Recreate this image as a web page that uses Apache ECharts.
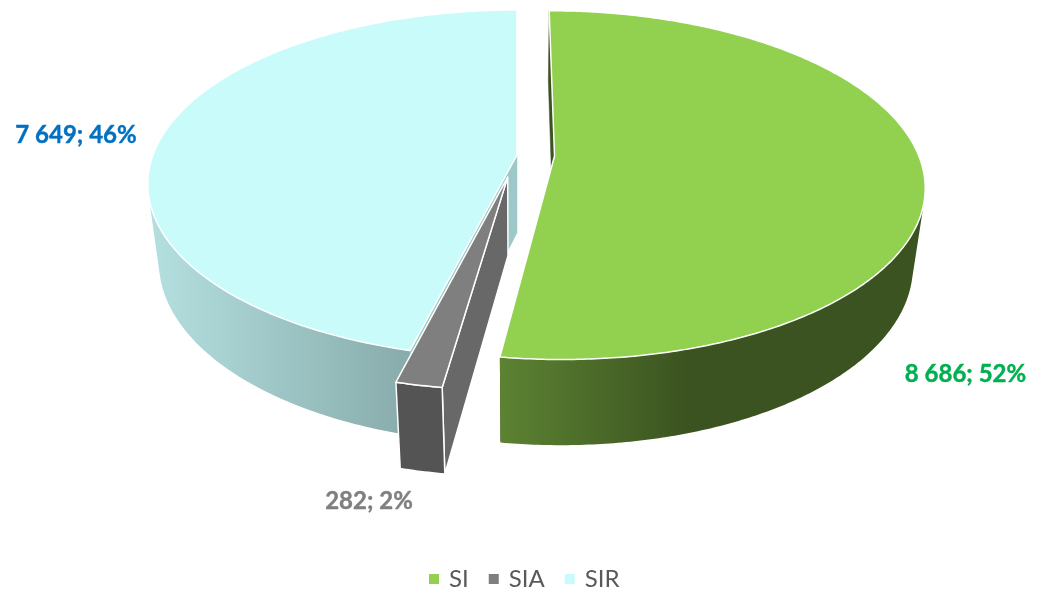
<!DOCTYPE html>
<html>
<head>
<meta charset="utf-8">
<style>html,body{margin:0;padding:0;background:#fff}#c{width:1043px;height:589px}</style>
<script src="https://cdn.jsdelivr.net/npm/echarts@6/dist/echarts.min.js"></script>
</head>
<body>
<div id="c"></div>
<script>
// Data
const categories = ['SI', 'SIA', 'SIR'];
const values = [8686, 282, 7649];
const valueLabels = ['8 686', '282', '7 649'];

// Per-slice styling
const topColors = ['#92D050', '#7F7F7F', '#C9FBFB'];
const cutColors = ['#3B5320', '#686868', '#9CC8C8'];
const wallStops = [['#5C8232', '#3B5320'], ['#545454', '#545454'], ['#B3DEDE', '#88ABAB']];
const wallSpans = [[500, 690], [396, 444], [160, 410]];
const labelColors = ['#00B050', '#7F7F7F', '#0070C0'];
const labelCenters = [[965.5, 374.5], [369, 501.5], [76, 135.5]];
const explode = [[0.103, 0.006], [-0.025, 0.128], [0, 0]];
const layerZ = [3, 2, 1];

// Perspective projection of the pie disc
const P = { cx: 517, cy: 155, B: 364, A: 169.2, k: -0.1667, H: 80, m: 0.03 };
const project = (u, v, z) => {
  const w = 1 + P.k * v + P.m * z;
  return [P.cx + P.B * u / w, P.cy + (P.A * v + P.H * z) / w];
};

const total = values.reduce((a, b) => a + b, 0);
const startAngle = i => values.slice(0, i).reduce((a, b) => a + b, 0) / total * Math.PI * 2;
const signedArea = pts => pts.reduce((sum, p, j) => {
  const q = pts[(j + 1) % pts.length];
  return sum + p[0] * q[1] - q[0] * p[1];
}, 0) / 2;

function renderSlice(i) {
  return function (params, api) {
    const a0 = startAngle(i);
    const a1 = a0 + api.value(0) / total * Math.PI * 2;
    const [ex, ey] = explode[i];
    const pt = (a, z) => project(ex + Math.sin(a), ey - Math.cos(a), z);
    const apex = z => project(ex, ey, z);
    const steps = Math.max(4, Math.ceil((a1 - a0) / 0.01));
    const arcTop = [], arcBottom = [];
    for (let s = 0; s <= steps; s++) {
      const a = a0 + (a1 - a0) * s / steps;
      arcTop.push(pt(a, 0));
      arcBottom.push(pt(a, 1));
    }
    const poly = (points, style, z2) => ({ type: 'polygon', z2, shape: { points }, style });
    const cut = a => [apex(0), pt(a, 0), pt(a, 1), apex(1)];
    const [sx0, sx1] = wallSpans[i];
    const wallFill = new echarts.graphic.LinearGradient(sx0, 0, sx1, 0, [
      { offset: 0, color: wallStops[i][0] }, { offset: 1, color: wallStops[i][1] }
    ], true);
    const edge = { stroke: '#fff', lineWidth: 1.5, lineJoin: 'round' };
    const pctText = valueLabels[i] + '; ' + Math.round(api.value(0) / total * 100) + '%';

    // Outer wall: only the run of the arc that faces the viewer
    let first = -1, last = -1;
    for (let s = 0; s < steps; s++) {
      if (signedArea([arcTop[s], arcTop[s + 1], arcBottom[s + 1], arcBottom[s]]) < 0) {
        if (first < 0) first = s;
        last = s + 1;
      }
    }
    const wallPoints = first < 0 ? [] :
      arcTop.slice(first, last + 1).concat(arcBottom.slice(first, last + 1).reverse());

    return {
      type: 'group',
      children: [
        poly(cut(a1), { fill: cutColors[i] }, 1),
        poly(cut(a0), Object.assign({ fill: cutColors[i] }, i === 1 ? edge : { stroke: cutColors[i], lineWidth: 0.5 }), 2),
        poly(wallPoints, Object.assign({ fill: wallFill }, i === 1 ? edge : {}), 3),
        poly([apex(0)].concat(arcTop), Object.assign({ fill: topColors[i] }, edge), 4),
        {
          type: 'text', z2: 5,
          style: {
            x: labelCenters[i][0], y: labelCenters[i][1], text: pctText,
            fill: labelColors[i], font: 'bold 24px Lato',
            stroke: labelColors[i], lineWidth: 0.4,
            textAlign: 'center', textVerticalAlign: 'middle'
          }
        }
      ]
    };
  };
}

const chart = echarts.init(document.getElementById('c'), null, { renderer: 'canvas' });
chart.setOption({
  animation: false,
  backgroundColor: '#fff',
  legend: {
    data: categories,
    left: 429, top: 567,
    icon: 'rect', itemWidth: 10, itemHeight: 10, itemGap: 20,
    textStyle: { color: '#595959', fontFamily: 'Lato', fontSize: 24, padding: [0, 0, 0, 5] },
    padding: 0, selectedMode: false
  },
  series: categories.map((name, i) => ({
    type: 'custom',
    name,
    coordinateSystem: 'none',
    z: layerZ[i],
    silent: true,
    itemStyle: { color: topColors[i] },
    data: [[values[i]]],
    renderItem: renderSlice(i)
  }))
});
</script>
</body>
</html>
